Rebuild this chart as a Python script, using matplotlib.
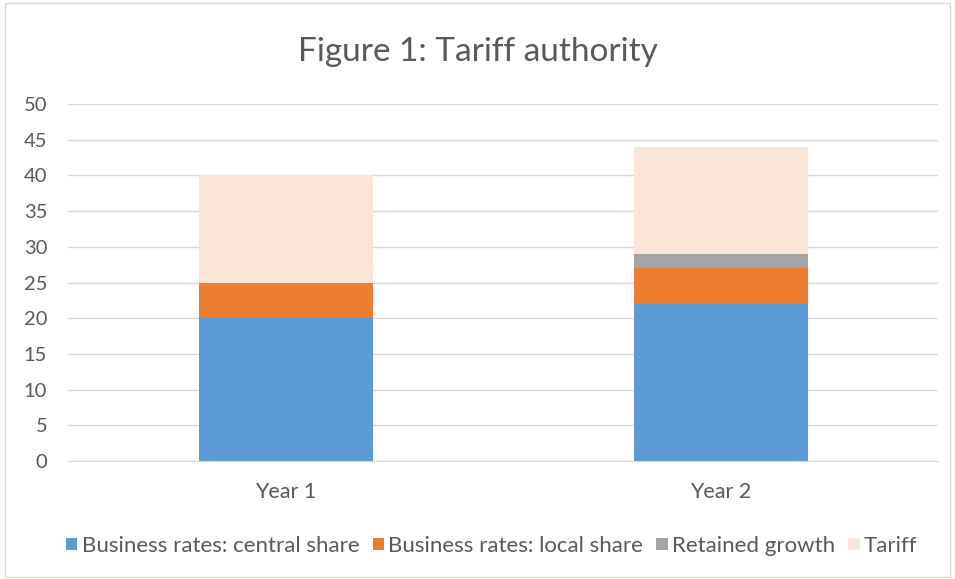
import matplotlib
matplotlib.use("Agg")
import matplotlib.pyplot as plt
from matplotlib.patches import Rectangle
import numpy as np

categories = ["Year 1", "Year 2"]
central_share = [20, 22]
local_share = [5, 5]
retained_growth = [0, 2]
tariff = [15, 15]
series_names = ["Business rates: central share", "Business rates: local share",
                "Retained growth", "Tariff"]
colors = ["#5B9BD5", "#ED7D31", "#A5A5A5", "#FBE5D6"]
yticks = [0, 5, 10, 15, 20, 25, 30, 35, 40, 45, 50]

plt.rcParams['font.family'] = ['Lato', 'DejaVu Sans']
text_color = "#595959"

fig = plt.figure(figsize=(9.55, 5.79), dpi=100)
fig.patches.append(Rectangle((0.005, 0.004), 0.99, 0.99, transform=fig.transFigure,
                             fill=False, edgecolor="#D9D9D9", linewidth=1))
ax = fig.add_axes([68/955, 118/579, 870/955, 357/579])

x = np.arange(len(categories))
series = [central_share, local_share, retained_growth, tariff]
bottom = np.zeros(len(categories))
handles = []
for vals, name, c in zip(series, series_names, colors):
    b = ax.bar(x, vals, 0.4, bottom=bottom, color=c, label=name, zorder=3)
    handles.append(b)
    bottom += np.array(vals)

ax.set_xlim(-0.5, 1.5)
ax.set_ylim(0, 50)
ax.set_yticks(yticks)
ax.set_xticks(x)
ax.set_xticklabels(categories)
ax.grid(axis='y', color="#D9D9D9", linewidth=1, zorder=0)
for s in ["top", "right", "left"]:
    ax.spines[s].set_visible(False)
ax.spines["bottom"].set_color("#D9D9D9")
ax.tick_params(axis='both', length=0, colors=text_color)
ax.tick_params(axis='y', pad=15, labelsize=14.5)
ax.tick_params(axis='x', pad=15, labelsize=15.5)

fig.text(0.5, 1 - 52/579, "Figure 1: Tariff authority", ha='center', va='center',
         fontsize=24, color=text_color)

leg = fig.legend(handles=handles, labels=series_names, loc='center',
                 bbox_to_anchor=(0.515, 1 - 546/579), ncol=4, frameon=False,
                 fontsize=16, handlelength=0.5, handleheight=0.5, handletextpad=0.2,
                 columnspacing=0.6, labelcolor=text_color)

fig.savefig("out.png", dpi=100)
